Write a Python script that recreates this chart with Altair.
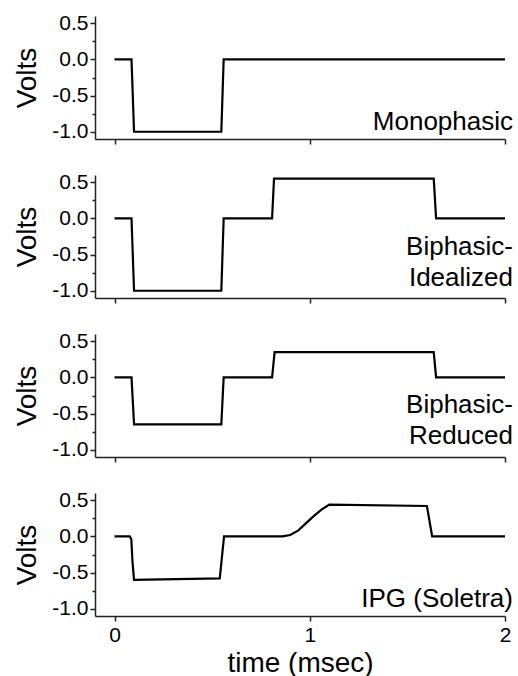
import altair as alt
import pandas as pd

# ---- data ----
mono_t = [0.0, 0.087, 0.100, 0.547, 0.559, 2.0]
mono_v = [0.0, 0.0, -1.0, -1.0, 0.0, 0.0]

bi_t = [0.0, 0.087, 0.100, 0.547, 0.559, 0.807, 0.817, 1.635, 1.647, 2.0]
bi_v = [0.0, 0.0, -1.0, -1.0, 0.0, 0.0, 0.55, 0.55, 0.0, 0.0]

red_t = [0.0, 0.087, 0.100, 0.547, 0.559, 0.807, 0.820, 1.635, 1.647, 2.0]
red_v = [0.0, 0.0, -0.65, -0.65, 0.0, 0.0, 0.35, 0.35, 0.0, 0.0]

ipg_t = [0.0, 0.078, 0.086, 0.092, 0.100, 0.539, 0.561, 0.86, 0.90, 0.94, 0.98,
         1.02, 1.06, 1.10, 1.60, 1.627, 2.0]
ipg_v = [0.0, 0.0, -0.04, -0.35, -0.60, -0.58, 0.0, 0.0, 0.02, 0.08, 0.18,
         0.28, 0.37, 0.44, 0.42, 0.0, 0.0]

labels = ["Monophasic", "Biphasic-\nIdealized", "Biphasic-\nReduced", "IPG (Soletra)"]

x_ticks = [0.0, 1.0, 2.0]
y_ticks = [-1.0, -0.5, 0.0, 0.5]
y_minor = [-0.75, -0.25, 0.25]

FONT = "Liberation Sans"
W, H = 410, 123
xscale = alt.Scale(domain=[-0.1, 2.0], nice=False, zero=False)
yscale = alt.Scale(domain=[-1.1, 0.6], nice=False, zero=False)


def panel(t, v, label, label_y, bottom):
    df = pd.DataFrame({"t": t, "v": v})
    xaxis = alt.Axis(values=x_ticks, labels=bottom, title="time (msec)" if bottom else None,
                     tickSize=5, labelPadding=3, titlePadding=4,
                     labelOverlap=False, labelFlush=False,
                     labelExpr="format(datum.value, 'd')")
    yaxis = alt.Axis(values=y_ticks, tickSize=5, labelPadding=2, title="Volts",
                     titlePadding=10,
                     labelExpr="replace(format(datum.value, '.1f'), '\u2212', '-')")
    line = alt.Chart(df).mark_line(color="black", strokeWidth=2.2).encode(
        x=alt.X("t:Q", scale=xscale, axis=xaxis),
        y=alt.Y("v:Q", scale=yscale, axis=yaxis),
    )
    minor = alt.Chart(df).mark_point(opacity=0).encode(
        y=alt.Y("v:Q", scale=yscale,
                axis=alt.Axis(orient="left", values=y_minor, labels=False, tickSize=3,
                              domain=False, title=None)),
    )
    text = alt.Chart(pd.DataFrame({"label": [label]})).mark_text(
        align="right", baseline="alphabetic", fontSize=26, lineHeight=31,
        lineBreak="\n", font=FONT, color="black"
    ).encode(text="label:N", x=alt.value(W + 8), y=alt.value(label_y))
    return alt.layer(line, minor, text).resolve_axis(y="independent").properties(width=W, height=H)


chart = alt.vconcat(
    panel(mono_t, mono_v, labels[0], 114, False),
    panel(bi_t, bi_v, labels[1], 80, False),
    panel(red_t, red_v, labels[2], 79, False),
    panel(ipg_t, ipg_v, labels[3], 114, True),
    spacing=36,
    bounds="flush",
).properties(
    padding={"left": 13, "top": 12, "right": 0, "bottom": 0}
).configure_view(stroke=None).configure_axis(
    grid=False, domainColor="#222", domainWidth=1.5, tickColor="#222", tickWidth=1.5,
    labelFont=FONT, labelFontSize=21, labelColor="black",
    titleFont=FONT, titleFontSize=28, titleFontWeight="normal", titleColor="black",
)

chart.save("out.html", embed_options={"renderer": "svg", "actions": False})
